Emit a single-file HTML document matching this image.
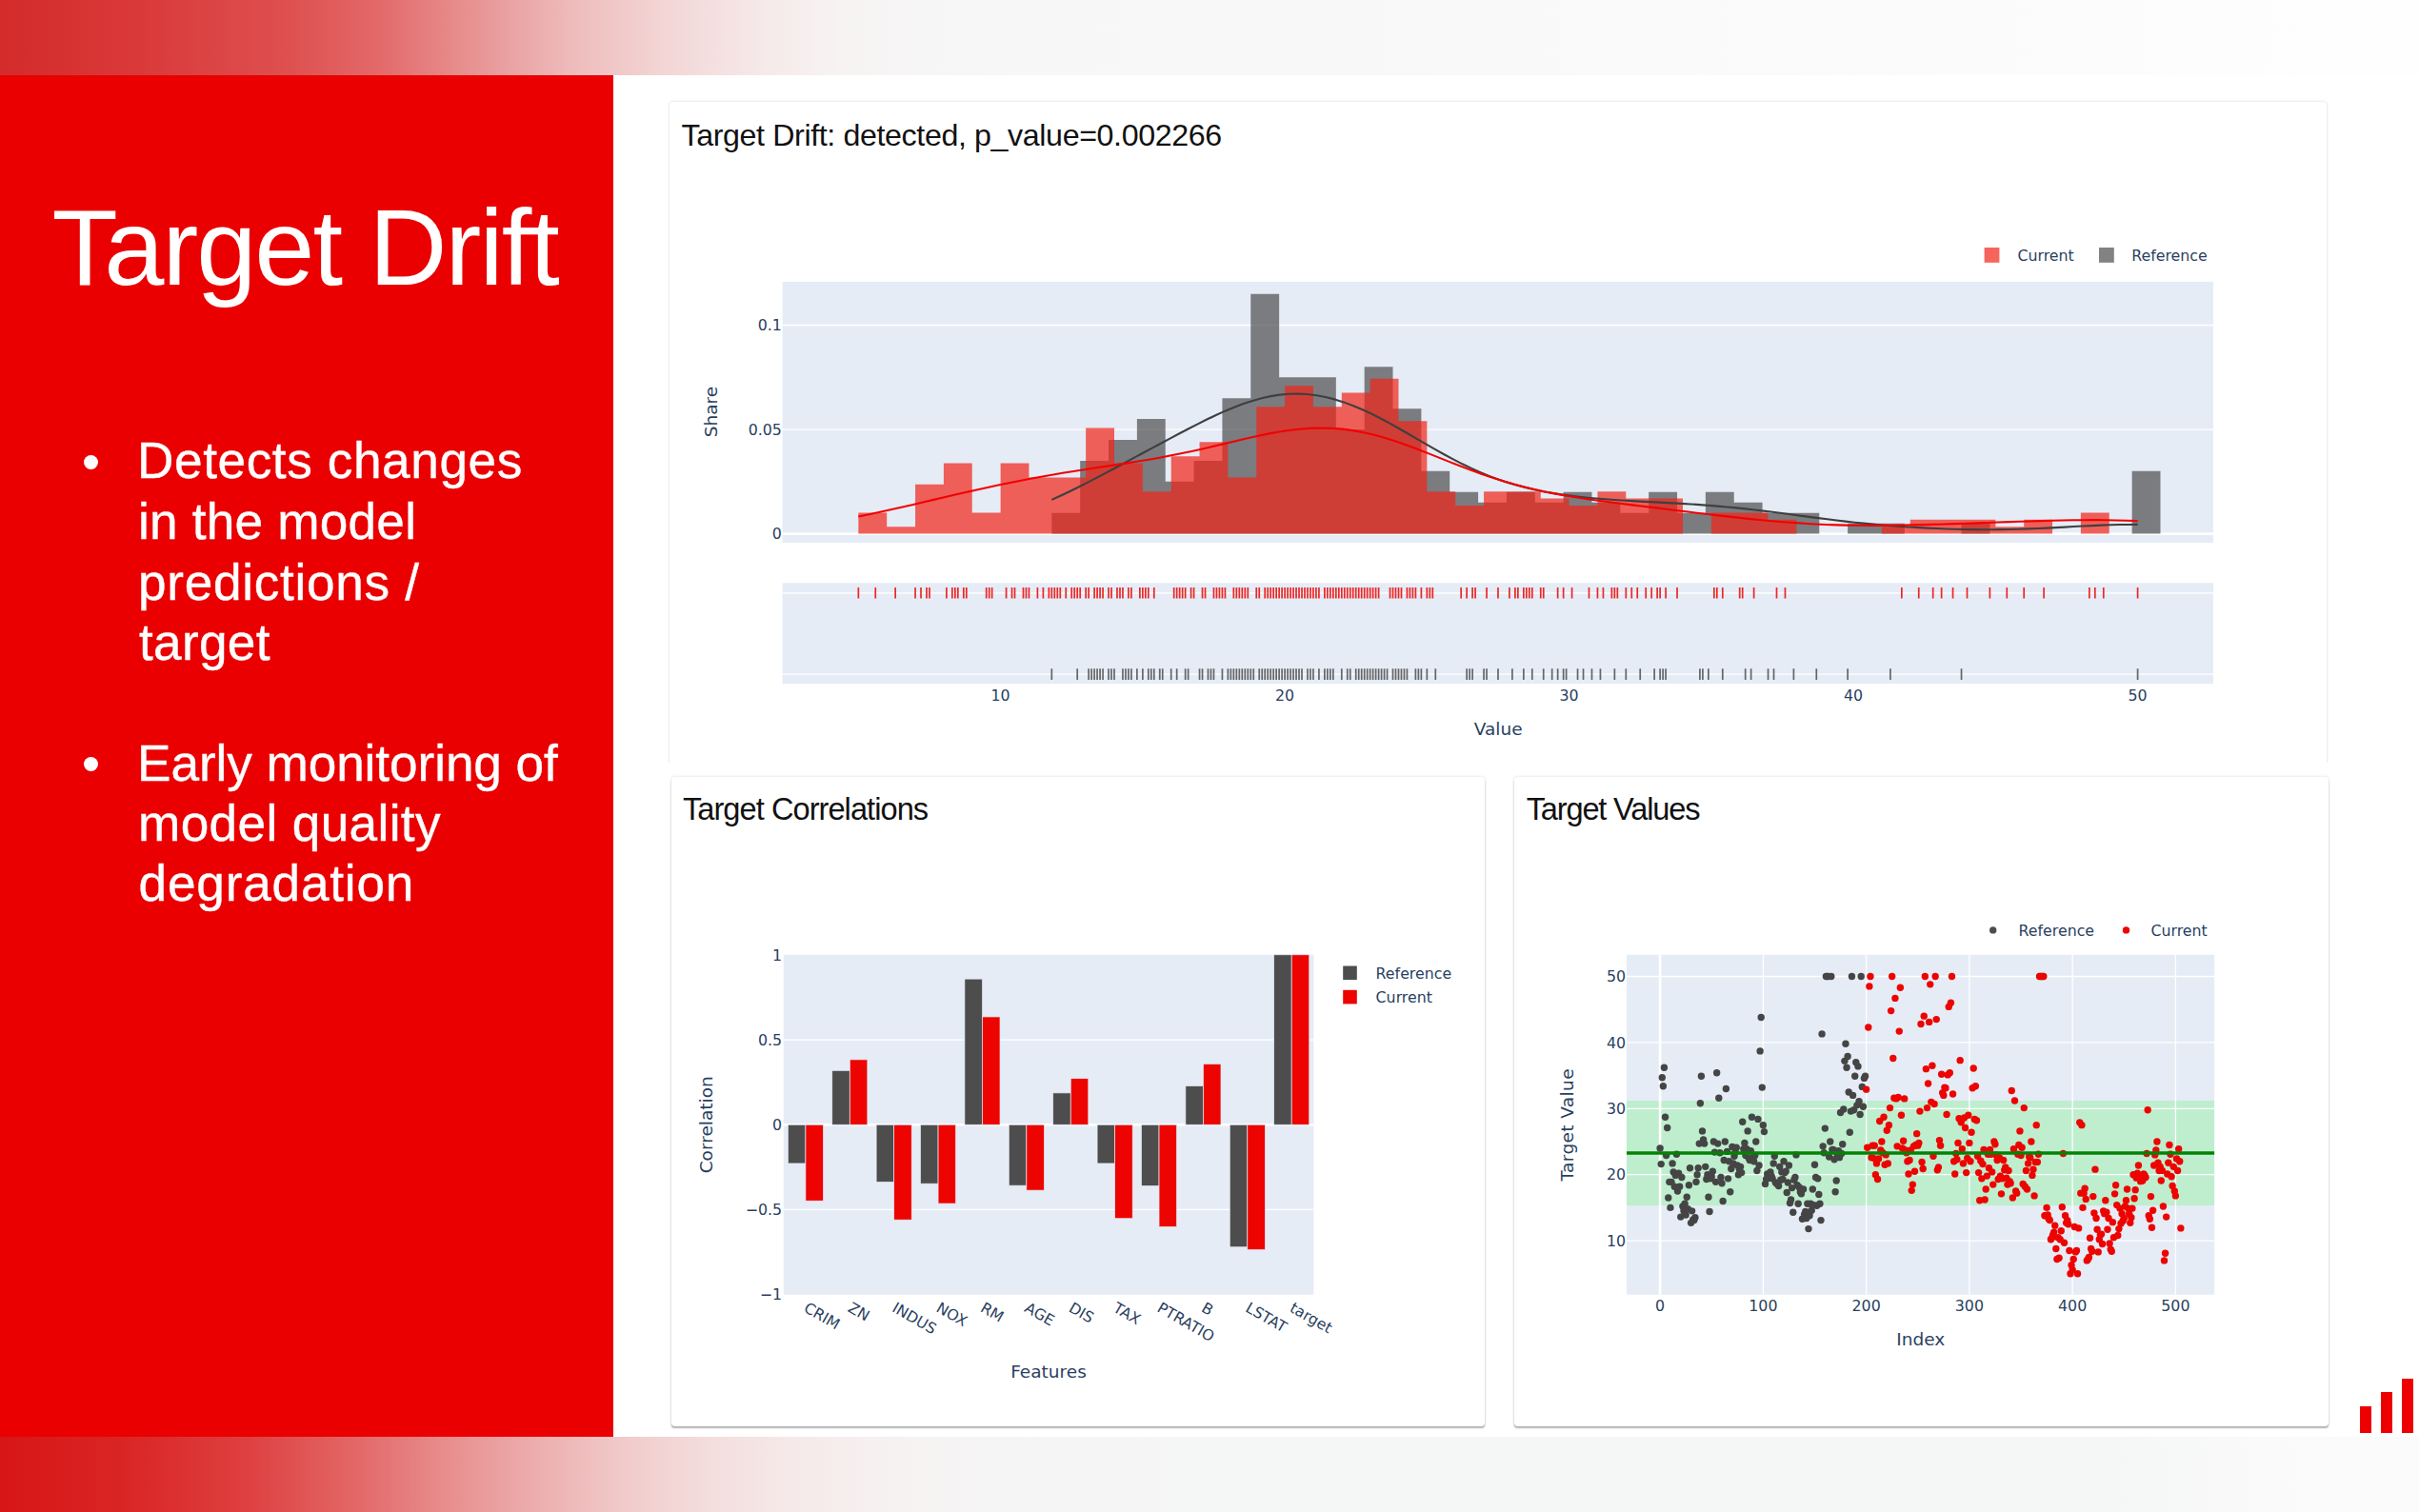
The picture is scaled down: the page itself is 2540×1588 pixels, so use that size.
<!DOCTYPE html>
<html lang="en"><head><meta charset="utf-8"><title>Target Drift</title>
<style>
html,body{margin:0;padding:0;}
body{width:2540px;height:1588px;position:relative;overflow:hidden;background:#fff;font-family:"Liberation Sans",Arial,Helvetica,sans-serif;}
.band{position:absolute;left:0;width:2540px;}
#bt{top:0;height:79px;background:linear-gradient(90deg,#d42b2b 0px,#da3a3a 150px,#de4f4f 300px,#e36a6a 400px,#e89494 500px,#eebbbb 600px,#f3d6d6 700px,#f6e9e9 800px,#f7f3f3 880px,#f7f7f7 1000px,#f8f8f8 1400px,#fafafa 1800px,#fcfcfc 2150px,#fefefe 2450px,#fefefe 2540px);}
#bb{top:1509px;height:79px;background:linear-gradient(90deg,#d71616 0px,#da2525 130px,#de4040 260px,#e36666 370px,#e88e8e 470px,#edb0b0 570px,#f1cccc 660px,#f4dede 750px,#f6eaea 840px,#f6f1f1 930px,#f6f5f5 1040px,#f5f6f6 1300px,#f5f6f6 2200px,#fafafa 2400px,#fbfbfb 2540px);}
#red{position:absolute;left:0;top:79px;width:644px;height:1430px;background:#ea0000;}
.wl{position:absolute;margin:0;font-weight:400;color:#fff;white-space:nowrap;}
.ws{-webkit-text-stroke:0.4px #fff;}
.dot{position:absolute;width:15px;height:15px;border-radius:50%;background:#fff;}
.card{position:absolute;background:#fff;border-radius:4px;box-shadow:0 2.2px 1.6px -0.8px rgba(0,0,0,.27),0 0 2.2px 0.2px rgba(0,0,0,.075);}
.ct{position:absolute;margin:0;font-weight:400;color:#111;white-space:nowrap;}
svg text{font-family:'DejaVu Sans', Verdana, sans-serif;fill:#2a3f5f;}
.logo{position:absolute;background:#ee0000;}
</style></head><body>
<div class="band" id="bt"></div>
<div class="band" id="bb"></div>
<div id="red"></div>
<h1 class="wl" id="title" style="left:54.50px;top:203.12px;font-size:113.5px;line-height:113.5px;height:113.5px;letter-spacing:-1.982px">Target Drift</h1>
<span class="dot" style="left:87.9px;top:477.6px"></span>
<div class="wl ws" id="l1" style="left:144.00px;top:457.47px;font-size:53.2px;line-height:53.2px;height:53.2px;letter-spacing:0.586px">Detects changes</div>
<div class="wl ws" id="l2" style="left:145.00px;top:521.17px;font-size:53.2px;line-height:53.2px;height:53.2px;letter-spacing:0.200px">in the model</div>
<div class="wl ws" id="l3" style="left:145.00px;top:584.77px;font-size:53.2px;line-height:53.2px;height:53.2px;letter-spacing:0.683px">predictions /</div>
<div class="wl ws" id="l4" style="left:146.00px;top:648.47px;font-size:53.2px;line-height:53.2px;height:53.2px;letter-spacing:0.280px">target</div>
<span class="dot" style="left:87.7px;top:795.3px"></span>
<div class="wl ws" id="l5" style="left:144.00px;top:774.67px;font-size:53.2px;line-height:53.2px;height:53.2px;letter-spacing:-0.089px">Early monitoring of</div>
<div class="wl ws" id="l6" style="left:145.00px;top:837.97px;font-size:53.2px;line-height:53.2px;height:53.2px;letter-spacing:0.350px">model quality</div>
<div class="wl ws" id="l7" style="left:145.50px;top:901.27px;font-size:53.2px;line-height:53.2px;height:53.2px;letter-spacing:0.800px">degradation</div>
<div class="card" id="c1" style="left:703px;top:107px;width:1740px;height:696px;border-radius:4px 4px 0 0;box-shadow:0 0 3px 0 rgba(0,0,0,.18);clip-path:inset(-6px -6px 2px -6px)"></div>
<div class="card" id="c2" style="left:705.3px;top:816px;width:854.2px;height:681.6px"></div>
<div class="card" id="c3" style="left:1589.5px;top:816px;width:855px;height:681.6px"></div>
<h2 class="ct" id="t1" style="left:715.50px;top:126.24px;font-size:32.2px;line-height:32.2px;height:32.2px;letter-spacing:-0.379px">Target Drift: detected, p_value=0.002266</h2>
<h2 class="ct" id="t2" style="left:716.90px;top:833.90px;font-size:32.6px;line-height:32.6px;height:32.6px;letter-spacing:-0.944px">Target Correlations</h2>
<h2 class="ct" id="t3" style="left:1602.70px;top:833.90px;font-size:32.6px;line-height:32.6px;height:32.6px;letter-spacing:-1.167px">Target Values</h2>
<svg width="2540" height="1588" viewBox="0 0 2540 1588" style="position:absolute;left:0;top:0">
<rect x="821.6" y="295.9" width="1502.4" height="274.1" fill="#E5ECF6"/>
<rect x="821.6" y="612.3" width="1502.4" height="105.9" fill="#E5ECF6"/>
<line x1="821.6" x2="2324" y1="451.05" y2="451.05" stroke="#fff" stroke-width="1.3"/>
<line x1="821.6" x2="2324" y1="341.5" y2="341.5" stroke="#fff" stroke-width="1.3"/>
<line x1="821.6" x2="2324" y1="560.6" y2="560.6" stroke="#fff" stroke-width="2.6"/>
<line x1="821.6" x2="2324" y1="622.8" y2="622.8" stroke="#fff" stroke-width="1.3"/>
<line x1="821.6" x2="2324" y1="708.1" y2="708.1" stroke="#fff" stroke-width="1.3"/>
<path d="M1104.33,560.6V538.69H1134.18V560.6ZM1134.18,560.6V483.92H1164.03V560.6ZM1164.03,560.6V462H1193.88V560.6ZM1193.88,560.6V440.1H1223.73V560.6ZM1223.73,560.6V505.83H1253.58V560.6ZM1253.58,560.6V483.92H1283.43V560.6ZM1283.43,560.6V418.19H1313.28V560.6ZM1313.28,560.6V308.63H1343.13V560.6ZM1343.13,560.6V396.28H1372.98V560.6ZM1372.98,560.6V396.28H1402.83V560.6ZM1402.83,560.6V451.05H1432.68V560.6ZM1432.68,560.6V385.32H1462.53V560.6ZM1462.53,560.6V429.14H1492.38V560.6ZM1492.38,560.6V494.87H1522.23V560.6ZM1522.23,560.6V516.78H1552.08V560.6ZM1552.08,560.6V527.74H1581.93V560.6ZM1581.93,560.6V516.78H1611.78V560.6ZM1611.78,560.6V527.74H1641.63V560.6ZM1641.63,560.6V516.78H1671.48V560.6ZM1671.48,560.6V527.74H1701.33V560.6ZM1701.33,560.6V538.69H1731.18V560.6ZM1731.18,560.6V516.78H1761.03V560.6ZM1761.03,560.6V538.69H1790.88V560.6ZM1790.88,560.6V516.78H1820.73V560.6ZM1820.73,560.6V527.74H1850.58V560.6ZM1850.58,560.6V538.69H1880.43V560.6ZM1880.43,560.6V538.69H1910.28V560.6ZM1940.13,560.6V549.64H1969.98V560.6ZM1969.98,560.6V549.64H1999.83V560.6ZM2059.53,560.6V549.64H2089.38V560.6ZM2238.63,560.6V494.87H2268.48V560.6Z" fill="#4d4d4d" fill-opacity="0.7"/>
<path d="M901.35,560.6V538.39H931.2V560.6ZM931.2,560.6V553.2H961.05V560.6ZM961.05,560.6V508.79H990.9V560.6ZM990.9,560.6V486.58H1020.75V560.6ZM1020.75,560.6V538.39H1050.6V560.6ZM1050.6,560.6V486.58H1080.45V560.6ZM1080.45,560.6V501.38H1110.3V560.6ZM1110.3,560.6V501.38H1140.15V560.6ZM1140.15,560.6V449.57H1170V560.6ZM1170,560.6V486.58H1199.85V560.6ZM1199.85,560.6V516.19H1229.7V560.6ZM1229.7,560.6V479.18H1259.55V560.6ZM1259.55,560.6V464.37H1289.4V560.6ZM1289.4,560.6V501.38H1319.25V560.6ZM1319.25,560.6V427.36H1349.1V560.6ZM1349.1,560.6V405.16H1378.95V560.6ZM1378.95,560.6V427.36H1408.8V560.6ZM1408.8,560.6V412.56H1438.65V560.6ZM1438.65,560.6V397.76H1468.5V560.6ZM1468.5,560.6V442.17H1498.35V560.6ZM1498.35,560.6V516.19H1528.2V560.6ZM1528.2,560.6V530.99H1558.05V560.6ZM1558.05,560.6V516.19H1587.9V560.6ZM1587.9,560.6V516.19H1617.75V560.6ZM1617.75,560.6V523.59H1647.6V560.6ZM1647.6,560.6V530.99H1677.45V560.6ZM1677.45,560.6V516.19H1707.3V560.6ZM1707.3,560.6V523.59H1737.15V560.6ZM1737.15,560.6V523.59H1767V560.6ZM1796.85,560.6V538.39H1826.7V560.6ZM1826.7,560.6V538.39H1856.55V560.6ZM1856.55,560.6V545.8H1886.4V560.6ZM1975.95,560.6V553.2H2005.8V560.6ZM2005.8,560.6V545.8H2035.65V560.6ZM2035.65,560.6V545.8H2065.5V560.6ZM2065.5,560.6V545.8H2095.35V560.6ZM2095.35,560.6V553.2H2125.2V560.6ZM2125.2,560.6V545.8H2155.05V560.6ZM2184.9,560.6V538.39H2214.75V560.6Z" fill="#f22317" fill-opacity="0.7"/>
<polyline points="1104.33,524.92 1113.91,520.52 1123.49,515.93 1133.08,511.19 1142.66,506.32 1152.24,501.35 1161.82,496.31 1171.4,491.22 1180.99,486.1 1190.57,480.95 1200.15,475.79 1209.73,470.63 1219.32,465.48 1228.9,460.35 1238.48,455.26 1248.06,450.23 1257.64,445.32 1267.23,440.54 1276.81,435.97 1286.39,431.66 1295.97,427.66 1305.55,424.05 1315.14,420.89 1324.72,418.23 1334.3,416.13 1343.88,414.64 1353.46,413.78 1363.05,413.59 1372.63,414.05 1382.21,415.19 1391.79,416.97 1401.38,419.38 1410.96,422.38 1420.54,425.92 1430.12,429.95 1439.7,434.42 1449.29,439.26 1458.87,444.39 1468.45,449.75 1478.03,455.26 1487.61,460.83 1497.2,466.41 1506.78,471.91 1516.36,477.26 1525.94,482.42 1535.52,487.32 1545.11,491.92 1554.69,496.19 1564.27,500.12 1573.85,503.68 1583.44,506.89 1593.02,509.76 1602.6,512.29 1612.18,514.51 1621.76,516.46 1631.35,518.15 1640.93,519.62 1650.51,520.89 1660.09,521.99 1669.67,522.95 1679.26,523.79 1688.84,524.53 1698.42,525.19 1708,525.78 1717.58,526.33 1727.17,526.84 1736.75,527.34 1746.33,527.84 1755.91,528.35 1765.49,528.9 1775.08,529.48 1784.66,530.12 1794.24,530.83 1803.82,531.61 1813.41,532.46 1822.99,533.4 1832.57,534.41 1842.15,535.49 1851.73,536.63 1861.32,537.83 1870.9,539.06 1880.48,540.32 1890.06,541.59 1899.64,542.86 1909.23,544.1 1918.81,545.32 1928.39,546.49 1937.97,547.61 1947.55,548.67 1957.14,549.66 1966.72,550.58 1976.3,551.44 1985.88,552.22 1995.47,552.92 2005.05,553.56 2014.63,554.13 2024.21,554.63 2033.79,555.06 2043.38,555.43 2052.96,555.73 2062.54,555.95 2072.12,556.11 2081.7,556.19 2091.29,556.19 2100.87,556.11 2110.45,555.95 2120.03,555.72 2129.61,555.4 2139.2,555.02 2148.78,554.58 2158.36,554.1 2167.94,553.59 2177.53,553.07 2187.11,552.56 2196.69,552.08 2206.27,551.66 2215.85,551.32 2225.44,551.07 2235.02,550.93 2244.6,550.91" fill="none" stroke="#3f3f3f" stroke-width="2.1" stroke-linejoin="round"/>
<polyline points="901.35,542.43 912.64,540.16 923.93,537.78 935.21,535.31 946.5,532.76 957.79,530.17 969.08,527.53 980.36,524.88 991.65,522.24 1002.94,519.6 1014.23,517 1025.52,514.45 1036.8,511.96 1048.09,509.53 1059.38,507.19 1070.67,504.92 1081.96,502.75 1093.24,500.68 1104.53,498.69 1115.82,496.79 1127.11,494.97 1138.39,493.21 1149.68,491.49 1160.97,489.8 1172.26,488.1 1183.55,486.37 1194.83,484.58 1206.12,482.7 1217.41,480.71 1228.7,478.59 1239.98,476.33 1251.27,473.94 1262.56,471.42 1273.85,468.8 1285.14,466.11 1296.42,463.41 1307.71,460.75 1319,458.2 1330.29,455.85 1341.57,453.76 1352.86,452.01 1364.15,450.68 1375.44,449.83 1386.73,449.52 1398.01,449.79 1409.3,450.66 1420.59,452.14 1431.88,454.21 1443.17,456.84 1454.45,459.97 1465.74,463.55 1477.03,467.5 1488.32,471.72 1499.6,476.13 1510.89,480.63 1522.18,485.13 1533.47,489.56 1544.76,493.84 1556.04,497.92 1567.33,501.76 1578.62,505.31 1589.91,508.58 1601.19,511.56 1612.48,514.26 1623.77,516.7 1635.06,518.9 1646.35,520.9 1657.63,522.73 1668.92,524.42 1680.21,526 1691.5,527.51 1702.78,528.96 1714.07,530.37 1725.36,531.77 1736.65,533.16 1747.94,534.54 1759.22,535.92 1770.51,537.3 1781.8,538.67 1793.09,540.02 1804.38,541.35 1815.66,542.65 1826.95,543.9 1838.24,545.09 1849.53,546.21 1860.81,547.25 1872.1,548.21 1883.39,549.06 1894.68,549.8 1905.97,550.43 1917.25,550.95 1928.54,551.35 1939.83,551.63 1951.12,551.81 1962.4,551.88 1973.69,551.87 1984.98,551.77 1996.27,551.6 2007.56,551.37 2018.84,551.1 2030.13,550.79 2041.42,550.45 2052.71,550.09 2063.99,549.72 2075.28,549.34 2086.57,548.95 2097.86,548.56 2109.15,548.17 2120.43,547.79 2131.72,547.43 2143.01,547.08 2154.3,546.78 2165.59,546.52 2176.87,546.32 2188.16,546.2 2199.45,546.17 2210.74,546.25 2222.02,546.44 2233.31,546.74 2244.6,547.17" fill="none" stroke="#f20000" stroke-width="2.1" stroke-linejoin="round"/>
<path d="M901.35,617v11.6M919.26,617v11.6M940.15,617v11.6M961.05,617v11.6M967.02,617v11.6M972.99,617v11.6M975.97,617v11.6M993.88,617v11.6M999.85,617v11.6M1002.84,617v11.6M1005.82,617v11.6M1011.79,617v11.6M1014.78,617v11.6M1035.67,617v11.6M1038.66,617v11.6M1041.64,617v11.6M1056.57,617v11.6M1062.54,617v11.6M1065.52,617v11.6M1074.48,617v11.6M1077.46,617v11.6M1080.45,617v11.6M1089.4,617v11.6M1095.38,617v11.6M1101.34,617v11.6M1104.33,617v11.6M1107.31,617v11.6M1110.3,617v11.6M1113.28,617v11.6M1119.25,617v11.6M1125.22,617v11.6M1128.21,617v11.6M1131.19,617v11.6M1134.18,617v11.6M1140.15,617v11.6M1143.13,617v11.6M1149.11,617v11.6M1152.09,617v11.6M1155.07,617v11.6M1158.06,617v11.6M1164.03,617v11.6M1167.01,617v11.6M1172.98,617v11.6M1175.97,617v11.6M1178.95,617v11.6M1184.92,617v11.6M1187.91,617v11.6M1196.87,617v11.6M1199.85,617v11.6M1202.83,617v11.6M1205.82,617v11.6M1211.79,617v11.6M1232.68,617v11.6M1235.67,617v11.6M1238.65,617v11.6M1241.64,617v11.6M1244.62,617v11.6M1250.59,617v11.6M1253.58,617v11.6M1262.53,617v11.6M1265.52,617v11.6M1274.47,617v11.6M1277.46,617v11.6M1280.44,617v11.6M1283.43,617v11.6M1286.41,617v11.6M1295.37,617v11.6M1298.36,617v11.6M1301.34,617v11.6M1304.32,617v11.6M1307.31,617v11.6M1310.29,617v11.6M1319.25,617v11.6M1322.23,617v11.6M1328.2,617v11.6M1331.19,617v11.6M1334.17,617v11.6M1337.16,617v11.6M1340.14,617v11.6M1343.13,617v11.6M1346.11,617v11.6M1349.1,617v11.6M1352.09,617v11.6M1355.07,617v11.6M1358.05,617v11.6M1361.04,617v11.6M1364.02,617v11.6M1367.01,617v11.6M1369.99,617v11.6M1372.98,617v11.6M1375.96,617v11.6M1378.95,617v11.6M1381.93,617v11.6M1384.92,617v11.6M1390.89,617v11.6M1393.88,617v11.6M1396.86,617v11.6M1399.84,617v11.6M1402.83,617v11.6M1405.81,617v11.6M1408.8,617v11.6M1411.78,617v11.6M1414.77,617v11.6M1417.75,617v11.6M1420.74,617v11.6M1423.72,617v11.6M1426.71,617v11.6M1429.69,617v11.6M1432.68,617v11.6M1435.66,617v11.6M1438.65,617v11.6M1441.63,617v11.6M1444.62,617v11.6M1447.61,617v11.6M1459.54,617v11.6M1462.53,617v11.6M1465.51,617v11.6M1468.5,617v11.6M1471.48,617v11.6M1477.45,617v11.6M1480.44,617v11.6M1483.42,617v11.6M1486.41,617v11.6M1492.38,617v11.6M1498.35,617v11.6M1501.34,617v11.6M1504.32,617v11.6M1534.17,617v11.6M1540.14,617v11.6M1546.11,617v11.6M1549.09,617v11.6M1561.03,617v11.6M1572.97,617v11.6M1584.91,617v11.6M1590.88,617v11.6M1593.87,617v11.6M1599.84,617v11.6M1602.82,617v11.6M1605.81,617v11.6M1608.8,617v11.6M1617.75,617v11.6M1620.74,617v11.6M1635.66,617v11.6M1641.63,617v11.6M1650.59,617v11.6M1668.49,617v11.6M1677.45,617v11.6M1683.42,617v11.6M1692.38,617v11.6M1695.36,617v11.6M1698.34,617v11.6M1707.3,617v11.6M1713.27,617v11.6M1719.24,617v11.6M1728.2,617v11.6M1734.16,617v11.6M1740.13,617v11.6M1743.12,617v11.6M1749.09,617v11.6M1761.03,617v11.6M1799.84,617v11.6M1802.82,617v11.6M1808.79,617v11.6M1826.7,617v11.6M1829.68,617v11.6M1841.62,617v11.6M1865.5,617v11.6M1874.46,617v11.6M1996.85,617v11.6M2014.75,617v11.6M2029.68,617v11.6M2038.63,617v11.6M2050.57,617v11.6M2065.5,617v11.6M2089.38,617v11.6M2107.29,617v11.6M2125.2,617v11.6M2146.1,617v11.6M2193.85,617v11.6M2199.82,617v11.6M2208.78,617v11.6M2244.6,617v11.6" stroke="#ed0400" stroke-width="1.7" stroke-opacity="0.85" fill="none"/>
<path d="M1104.33,702.3v11.6M1131.19,702.3v11.6M1143.13,702.3v11.6M1146.12,702.3v11.6M1149.11,702.3v11.6M1152.09,702.3v11.6M1155.07,702.3v11.6M1158.06,702.3v11.6M1164.03,702.3v11.6M1167.01,702.3v11.6M1170,702.3v11.6M1178.95,702.3v11.6M1181.94,702.3v11.6M1184.92,702.3v11.6M1187.91,702.3v11.6M1193.88,702.3v11.6M1199.85,702.3v11.6M1205.82,702.3v11.6M1208.8,702.3v11.6M1211.79,702.3v11.6M1217.76,702.3v11.6M1220.74,702.3v11.6M1229.7,702.3v11.6M1235.67,702.3v11.6M1244.62,702.3v11.6M1247.61,702.3v11.6M1259.55,702.3v11.6M1262.53,702.3v11.6M1268.5,702.3v11.6M1271.49,702.3v11.6M1274.47,702.3v11.6M1283.43,702.3v11.6M1289.4,702.3v11.6M1292.38,702.3v11.6M1295.37,702.3v11.6M1298.36,702.3v11.6M1301.34,702.3v11.6M1304.32,702.3v11.6M1307.31,702.3v11.6M1310.29,702.3v11.6M1313.28,702.3v11.6M1316.26,702.3v11.6M1322.23,702.3v11.6M1325.22,702.3v11.6M1328.2,702.3v11.6M1331.19,702.3v11.6M1334.17,702.3v11.6M1337.16,702.3v11.6M1340.14,702.3v11.6M1343.13,702.3v11.6M1346.11,702.3v11.6M1349.1,702.3v11.6M1352.09,702.3v11.6M1355.07,702.3v11.6M1358.05,702.3v11.6M1361.04,702.3v11.6M1364.02,702.3v11.6M1367.01,702.3v11.6M1372.98,702.3v11.6M1375.96,702.3v11.6M1378.95,702.3v11.6M1384.92,702.3v11.6M1390.89,702.3v11.6M1393.88,702.3v11.6M1396.86,702.3v11.6M1399.84,702.3v11.6M1408.8,702.3v11.6M1414.77,702.3v11.6M1417.75,702.3v11.6M1423.72,702.3v11.6M1426.71,702.3v11.6M1429.69,702.3v11.6M1432.68,702.3v11.6M1435.66,702.3v11.6M1438.65,702.3v11.6M1441.63,702.3v11.6M1444.62,702.3v11.6M1447.61,702.3v11.6M1450.59,702.3v11.6M1453.57,702.3v11.6M1456.56,702.3v11.6M1462.53,702.3v11.6M1465.51,702.3v11.6M1468.5,702.3v11.6M1471.48,702.3v11.6M1474.47,702.3v11.6M1477.45,702.3v11.6M1486.41,702.3v11.6M1489.39,702.3v11.6M1492.38,702.3v11.6M1498.35,702.3v11.6M1507.3,702.3v11.6M1540.14,702.3v11.6M1543.12,702.3v11.6M1546.11,702.3v11.6M1558.05,702.3v11.6M1561.03,702.3v11.6M1572.97,702.3v11.6M1587.9,702.3v11.6M1599.84,702.3v11.6M1608.8,702.3v11.6M1620.74,702.3v11.6M1629.69,702.3v11.6M1635.66,702.3v11.6M1641.63,702.3v11.6M1644.61,702.3v11.6M1656.55,702.3v11.6M1662.53,702.3v11.6M1671.48,702.3v11.6M1680.43,702.3v11.6M1695.36,702.3v11.6M1707.3,702.3v11.6M1722.22,702.3v11.6M1737.15,702.3v11.6M1743.12,702.3v11.6M1746.11,702.3v11.6M1749.09,702.3v11.6M1784.91,702.3v11.6M1787.89,702.3v11.6M1793.86,702.3v11.6M1808.79,702.3v11.6M1832.67,702.3v11.6M1838.64,702.3v11.6M1856.55,702.3v11.6M1862.52,702.3v11.6M1883.41,702.3v11.6M1907.3,702.3v11.6M1940.13,702.3v11.6M1984.9,702.3v11.6M2059.53,702.3v11.6M2244.6,702.3v11.6" stroke="#4d4d4d" stroke-width="1.7" stroke-opacity="0.85" fill="none"/>
<text x="820.9" y="566.3" font-size="15.8" text-anchor="end" >0</text>
<text x="820.9" y="456.75" font-size="15.8" text-anchor="end" >0.05</text>
<text x="820.9" y="347.2" font-size="15.8" text-anchor="end" >0.1</text>
<text x="1050.6" y="735.8" font-size="15.8" text-anchor="middle" >10</text>
<text x="1349.1" y="735.8" font-size="15.8" text-anchor="middle" >20</text>
<text x="1647.6" y="735.8" font-size="15.8" text-anchor="middle" >30</text>
<text x="1946.1" y="735.8" font-size="15.8" text-anchor="middle" >40</text>
<text x="2244.6" y="735.8" font-size="15.8" text-anchor="middle" >50</text>
<text x="1573.2" y="771.7" font-size="18.5" text-anchor="middle" >Value</text>
<text transform="translate(752.5,432.6) rotate(-90)" font-size="18.5" text-anchor="middle">Share</text>
<rect x="2083.6" y="260" width="15.8" height="15.8" fill="#f22317" fill-opacity="0.7"/>
<text x="2118.4" y="273.9" font-size="15.8" text-anchor="start" >Current</text>
<rect x="2204" y="260" width="15.8" height="15.8" fill="#4d4d4d" fill-opacity="0.7"/>
<text x="2238.2" y="273.9" font-size="15.8" text-anchor="start" >Reference</text>
<rect x="822.7" y="1002.8" width="556.7" height="356.9" fill="#E5ECF6"/>
<line x1="822.7" x2="1379.4" y1="1270.47" y2="1270.47" stroke="#fff" stroke-width="1.3"/>
<line x1="822.7" x2="1379.4" y1="1092.03" y2="1092.03" stroke="#fff" stroke-width="1.3"/>
<line x1="822.7" x2="1379.4" y1="1181.25" y2="1181.25" stroke="#fff" stroke-width="2.6"/>
<rect x="827.34" y="1181.25" width="18.56" height="40.69" fill="#4d4d4d" stroke="#E5ECF6" stroke-width="0.7"/>
<rect x="845.9" y="1181.25" width="18.56" height="79.95" fill="#ed0400" stroke="#E5ECF6" stroke-width="0.7"/>
<text transform="translate(842.9,1376.7) rotate(30)" font-size="15.8" text-anchor="start">CRIM</text>
<rect x="873.73" y="1124.32" width="18.56" height="56.93" fill="#4d4d4d" stroke="#E5ECF6" stroke-width="0.7"/>
<rect x="892.29" y="1112.9" width="18.56" height="68.35" fill="#ed0400" stroke="#E5ECF6" stroke-width="0.7"/>
<text transform="translate(889.29,1376.7) rotate(30)" font-size="15.8" text-anchor="start">ZN</text>
<rect x="920.12" y="1181.25" width="18.56" height="60.14" fill="#4d4d4d" stroke="#E5ECF6" stroke-width="0.7"/>
<rect x="938.68" y="1181.25" width="18.56" height="99.93" fill="#ed0400" stroke="#E5ECF6" stroke-width="0.7"/>
<text transform="translate(935.68,1376.7) rotate(30)" font-size="15.8" text-anchor="start">INDUS</text>
<rect x="966.51" y="1181.25" width="18.56" height="61.92" fill="#4d4d4d" stroke="#E5ECF6" stroke-width="0.7"/>
<rect x="985.07" y="1181.25" width="18.56" height="82.8" fill="#ed0400" stroke="#E5ECF6" stroke-width="0.7"/>
<text transform="translate(982.07,1376.7) rotate(30)" font-size="15.8" text-anchor="start">NOX</text>
<rect x="1012.91" y="1028.14" width="18.56" height="153.11" fill="#4d4d4d" stroke="#E5ECF6" stroke-width="0.7"/>
<rect x="1031.46" y="1067.93" width="18.56" height="113.32" fill="#ed0400" stroke="#E5ECF6" stroke-width="0.7"/>
<text transform="translate(1028.46,1376.7) rotate(30)" font-size="15.8" text-anchor="start">RM</text>
<rect x="1059.3" y="1181.25" width="18.56" height="63.89" fill="#4d4d4d" stroke="#E5ECF6" stroke-width="0.7"/>
<rect x="1077.85" y="1181.25" width="18.56" height="68.88" fill="#ed0400" stroke="#E5ECF6" stroke-width="0.7"/>
<text transform="translate(1074.85,1376.7) rotate(30)" font-size="15.8" text-anchor="start">AGE</text>
<rect x="1105.69" y="1147.88" width="18.56" height="33.37" fill="#4d4d4d" stroke="#E5ECF6" stroke-width="0.7"/>
<rect x="1124.25" y="1132.71" width="18.56" height="48.54" fill="#ed0400" stroke="#E5ECF6" stroke-width="0.7"/>
<text transform="translate(1121.25,1376.7) rotate(30)" font-size="15.8" text-anchor="start">DIS</text>
<rect x="1152.08" y="1181.25" width="18.56" height="40.69" fill="#4d4d4d" stroke="#E5ECF6" stroke-width="0.7"/>
<rect x="1170.64" y="1181.25" width="18.56" height="98.5" fill="#ed0400" stroke="#E5ECF6" stroke-width="0.7"/>
<text transform="translate(1167.64,1376.7) rotate(30)" font-size="15.8" text-anchor="start">TAX</text>
<rect x="1198.47" y="1181.25" width="18.56" height="64.24" fill="#4d4d4d" stroke="#E5ECF6" stroke-width="0.7"/>
<rect x="1217.03" y="1181.25" width="18.56" height="107.25" fill="#ed0400" stroke="#E5ECF6" stroke-width="0.7"/>
<text transform="translate(1214.03,1376.7) rotate(30)" font-size="15.8" text-anchor="start">PTRATIO</text>
<rect x="1244.86" y="1140.56" width="18.56" height="40.69" fill="#4d4d4d" stroke="#E5ECF6" stroke-width="0.7"/>
<rect x="1263.42" y="1117.36" width="18.56" height="63.89" fill="#ed0400" stroke="#E5ECF6" stroke-width="0.7"/>
<text transform="translate(1260.42,1376.7) rotate(30)" font-size="15.8" text-anchor="start">B</text>
<rect x="1291.26" y="1181.25" width="18.56" height="128.48" fill="#4d4d4d" stroke="#E5ECF6" stroke-width="0.7"/>
<rect x="1309.81" y="1181.25" width="18.56" height="131.34" fill="#ed0400" stroke="#E5ECF6" stroke-width="0.7"/>
<text transform="translate(1306.81,1376.7) rotate(30)" font-size="15.8" text-anchor="start">LSTAT</text>
<rect x="1337.65" y="1002.8" width="18.56" height="178.45" fill="#4d4d4d" stroke="#E5ECF6" stroke-width="0.7"/>
<rect x="1356.2" y="1002.8" width="18.56" height="178.45" fill="#ed0400" stroke="#E5ECF6" stroke-width="0.7"/>
<text transform="translate(1353.2,1376.7) rotate(30)" font-size="15.8" text-anchor="start">target</text>
<text x="821" y="1008.5" font-size="15.8" text-anchor="end" >1</text>
<text x="821" y="1097.73" font-size="15.8" text-anchor="end" >0.5</text>
<text x="821" y="1186.95" font-size="15.8" text-anchor="end" >0</text>
<text x="821" y="1276.17" font-size="15.8" text-anchor="end" >−0.5</text>
<text x="821" y="1365.4" font-size="15.8" text-anchor="end" >−1</text>
<text transform="translate(748.3,1181.3) rotate(-90)" font-size="18.5" text-anchor="middle">Correlation</text>
<text x="1101" y="1446.9" font-size="18.5" text-anchor="middle" >Features</text>
<rect x="1410.2" y="1014.5" width="14.6" height="14.6" fill="#4d4d4d"/>
<text x="1444.6" y="1027.9" font-size="15.8" text-anchor="start" >Reference</text>
<rect x="1410.2" y="1039.8" width="14.6" height="14.6" fill="#ed0400"/>
<text x="1444.6" y="1052.9" font-size="15.8" text-anchor="start" >Current</text>
<rect x="1708" y="1002.8" width="617.1" height="356.9" fill="#E5ECF6"/>
<rect x="1708" y="1156.13" width="617.1" height="109.89" fill="#97f0a6" fill-opacity="0.5"/>
<line y1="1002.8" y2="1359.7" x1="1851.36" x2="1851.36" stroke="#fff" stroke-width="1.3"/>
<line y1="1002.8" y2="1359.7" x1="1959.62" x2="1959.62" stroke="#fff" stroke-width="1.3"/>
<line y1="1002.8" y2="1359.7" x1="2067.88" x2="2067.88" stroke="#fff" stroke-width="1.3"/>
<line y1="1002.8" y2="1359.7" x1="2176.14" x2="2176.14" stroke="#fff" stroke-width="1.3"/>
<line y1="1002.8" y2="1359.7" x1="2284.4" x2="2284.4" stroke="#fff" stroke-width="1.3"/>
<line y1="1002.8" y2="1359.7" x1="1743.1" x2="1743.1" stroke="#fff" stroke-width="2.6"/>
<line x1="1708" x2="2325.1" y1="1303.1" y2="1303.1" stroke="#fff" stroke-width="1.3"/>
<line x1="1708" x2="2325.1" y1="1233.7" y2="1233.7" stroke="#fff" stroke-width="1.3"/>
<line x1="1708" x2="2325.1" y1="1164.3" y2="1164.3" stroke="#fff" stroke-width="1.3"/>
<line x1="1708" x2="2325.1" y1="1094.9" y2="1094.9" stroke="#fff" stroke-width="1.3"/>
<line x1="1708" x2="2325.1" y1="1025.5" y2="1025.5" stroke="#fff" stroke-width="1.3"/>
<g fill="#454545"><circle cx="1743.1" cy="1205.94" r="3.7"/><circle cx="1744.18" cy="1222.6" r="3.7"/><circle cx="1745.27" cy="1131.68" r="3.7"/><circle cx="1746.35" cy="1140.7" r="3.7"/><circle cx="1747.43" cy="1121.27" r="3.7"/><circle cx="1748.51" cy="1173.32" r="3.7"/><circle cx="1749.6" cy="1213.57" r="3.7"/><circle cx="1750.68" cy="1184.43" r="3.7"/><circle cx="1751.76" cy="1257.99" r="3.7"/><circle cx="1752.84" cy="1241.33" r="3.7"/><circle cx="1753.93" cy="1268.4" r="3.7"/><circle cx="1755.01" cy="1241.33" r="3.7"/><circle cx="1756.09" cy="1221.9" r="3.7"/><circle cx="1757.17" cy="1230.92" r="3.7"/><circle cx="1758.26" cy="1246.19" r="3.7"/><circle cx="1759.34" cy="1234.39" r="3.7"/><circle cx="1760.42" cy="1212.19" r="3.7"/><circle cx="1761.5" cy="1251.05" r="3.7"/><circle cx="1762.59" cy="1232.31" r="3.7"/><circle cx="1763.67" cy="1246.19" r="3.7"/><circle cx="1764.75" cy="1278.12" r="3.7"/><circle cx="1765.83" cy="1236.48" r="3.7"/><circle cx="1766.92" cy="1267.01" r="3.7"/><circle cx="1768" cy="1271.87" r="3.7"/><circle cx="1769.08" cy="1264.24" r="3.7"/><circle cx="1770.16" cy="1276.03" r="3.7"/><circle cx="1771.25" cy="1257.3" r="3.7"/><circle cx="1772.33" cy="1269.79" r="3.7"/><circle cx="1773.41" cy="1244.8" r="3.7"/><circle cx="1774.5" cy="1226.76" r="3.7"/><circle cx="1775.58" cy="1284.36" r="3.7"/><circle cx="1776.66" cy="1271.87" r="3.7"/><circle cx="1777.74" cy="1280.89" r="3.7"/><circle cx="1778.83" cy="1281.59" r="3.7"/><circle cx="1779.91" cy="1278.81" r="3.7"/><circle cx="1780.99" cy="1241.33" r="3.7"/><circle cx="1782.07" cy="1233.7" r="3.7"/><circle cx="1783.16" cy="1226.76" r="3.7"/><circle cx="1784.24" cy="1201.08" r="3.7"/><circle cx="1785.32" cy="1158.75" r="3.7"/><circle cx="1786.4" cy="1130.29" r="3.7"/><circle cx="1787.49" cy="1187.9" r="3.7"/><circle cx="1788.57" cy="1196.92" r="3.7"/><circle cx="1789.65" cy="1201.08" r="3.7"/><circle cx="1790.73" cy="1225.37" r="3.7"/><circle cx="1791.82" cy="1238.56" r="3.7"/><circle cx="1792.9" cy="1233.7" r="3.7"/><circle cx="1793.98" cy="1257.3" r="3.7"/><circle cx="1795.06" cy="1272.56" r="3.7"/><circle cx="1796.15" cy="1237.86" r="3.7"/><circle cx="1797.23" cy="1235.78" r="3.7"/><circle cx="1798.31" cy="1230.23" r="3.7"/><circle cx="1799.4" cy="1199" r="3.7"/><circle cx="1800.48" cy="1210.1" r="3.7"/><circle cx="1801.56" cy="1241.33" r="3.7"/><circle cx="1802.64" cy="1126.82" r="3.7"/><circle cx="1803.73" cy="1201.08" r="3.7"/><circle cx="1804.81" cy="1153.2" r="3.7"/><circle cx="1805.89" cy="1210.8" r="3.7"/><circle cx="1806.97" cy="1236.48" r="3.7"/><circle cx="1808.06" cy="1242.72" r="3.7"/><circle cx="1809.14" cy="1261.46" r="3.7"/><circle cx="1810.22" cy="1218.43" r="3.7"/><circle cx="1811.3" cy="1199" r="3.7"/><circle cx="1812.39" cy="1143.48" r="3.7"/><circle cx="1813.47" cy="1209.41" r="3.7"/><circle cx="1814.55" cy="1237.86" r="3.7"/><circle cx="1815.63" cy="1219.82" r="3.7"/><circle cx="1816.72" cy="1251.74" r="3.7"/><circle cx="1817.8" cy="1227.45" r="3.7"/><circle cx="1818.88" cy="1204.55" r="3.7"/><circle cx="1819.96" cy="1221.9" r="3.7"/><circle cx="1821.05" cy="1214.27" r="3.7"/><circle cx="1822.13" cy="1210.1" r="3.7"/><circle cx="1823.21" cy="1205.25" r="3.7"/><circle cx="1824.29" cy="1223.98" r="3.7"/><circle cx="1825.38" cy="1233.7" r="3.7"/><circle cx="1826.46" cy="1228.15" r="3.7"/><circle cx="1827.54" cy="1225.37" r="3.7"/><circle cx="1828.63" cy="1231.62" r="3.7"/><circle cx="1829.71" cy="1178.18" r="3.7"/><circle cx="1830.79" cy="1206.63" r="3.7"/><circle cx="1831.87" cy="1200.39" r="3.7"/><circle cx="1832.96" cy="1213.57" r="3.7"/><circle cx="1834.04" cy="1206.63" r="3.7"/><circle cx="1835.12" cy="1187.9" r="3.7"/><circle cx="1836.2" cy="1216.35" r="3.7"/><circle cx="1837.29" cy="1218.43" r="3.7"/><circle cx="1838.37" cy="1208.72" r="3.7"/><circle cx="1839.45" cy="1173.32" r="3.7"/><circle cx="1840.53" cy="1215.66" r="3.7"/><circle cx="1841.62" cy="1219.82" r="3.7"/><circle cx="1842.7" cy="1213.57" r="3.7"/><circle cx="1843.78" cy="1199" r="3.7"/><circle cx="1844.86" cy="1229.54" r="3.7"/><circle cx="1845.95" cy="1175.4" r="3.7"/><circle cx="1847.03" cy="1223.98" r="3.7"/><circle cx="1848.11" cy="1103.92" r="3.7"/><circle cx="1849.19" cy="1068.53" r="3.7"/><circle cx="1850.28" cy="1142.09" r="3.7"/><circle cx="1851.36" cy="1181.65" r="3.7"/><circle cx="1852.44" cy="1188.59" r="3.7"/><circle cx="1853.53" cy="1243.42" r="3.7"/><circle cx="1854.61" cy="1238.56" r="3.7"/><circle cx="1855.69" cy="1233.01" r="3.7"/><circle cx="1856.77" cy="1237.17" r="3.7"/><circle cx="1857.86" cy="1237.17" r="3.7"/><circle cx="1858.94" cy="1230.92" r="3.7"/><circle cx="1860.02" cy="1235.09" r="3.7"/><circle cx="1861.1" cy="1237.86" r="3.7"/><circle cx="1862.19" cy="1221.9" r="3.7"/><circle cx="1863.27" cy="1214.27" r="3.7"/><circle cx="1864.35" cy="1242.03" r="3.7"/><circle cx="1865.43" cy="1242.72" r="3.7"/><circle cx="1866.52" cy="1244.11" r="3.7"/><circle cx="1867.6" cy="1245.5" r="3.7"/><circle cx="1868.68" cy="1225.37" r="3.7"/><circle cx="1869.76" cy="1239.25" r="3.7"/><circle cx="1870.85" cy="1230.92" r="3.7"/><circle cx="1871.93" cy="1238.56" r="3.7"/><circle cx="1873.01" cy="1219.82" r="3.7"/><circle cx="1874.09" cy="1231.62" r="3.7"/><circle cx="1875.18" cy="1230.23" r="3.7"/><circle cx="1876.26" cy="1252.44" r="3.7"/><circle cx="1877.34" cy="1242.03" r="3.7"/><circle cx="1878.42" cy="1223.98" r="3.7"/><circle cx="1879.51" cy="1263.54" r="3.7"/><circle cx="1880.59" cy="1260.07" r="3.7"/><circle cx="1881.67" cy="1247.58" r="3.7"/><circle cx="1882.76" cy="1273.26" r="3.7"/><circle cx="1883.84" cy="1239.25" r="3.7"/><circle cx="1884.92" cy="1236.48" r="3.7"/><circle cx="1886" cy="1212.88" r="3.7"/><circle cx="1887.09" cy="1244.8" r="3.7"/><circle cx="1888.17" cy="1264.24" r="3.7"/><circle cx="1889.25" cy="1246.89" r="3.7"/><circle cx="1890.33" cy="1251.74" r="3.7"/><circle cx="1891.42" cy="1253.83" r="3.7"/><circle cx="1892.5" cy="1280.2" r="3.7"/><circle cx="1893.58" cy="1248.97" r="3.7"/><circle cx="1894.66" cy="1275.34" r="3.7"/><circle cx="1895.75" cy="1272.56" r="3.7"/><circle cx="1896.83" cy="1279.5" r="3.7"/><circle cx="1897.91" cy="1264.24" r="3.7"/><circle cx="1898.99" cy="1290.61" r="3.7"/><circle cx="1900.08" cy="1276.73" r="3.7"/><circle cx="1901.16" cy="1264.24" r="3.7"/><circle cx="1902.24" cy="1271.18" r="3.7"/><circle cx="1903.32" cy="1248.97" r="3.7"/><circle cx="1904.41" cy="1265.62" r="3.7"/><circle cx="1905.49" cy="1223.29" r="3.7"/><circle cx="1906.57" cy="1236.48" r="3.7"/><circle cx="1907.66" cy="1266.32" r="3.7"/><circle cx="1908.74" cy="1237.86" r="3.7"/><circle cx="1909.82" cy="1254.52" r="3.7"/><circle cx="1910.9" cy="1264.24" r="3.7"/><circle cx="1911.99" cy="1281.59" r="3.7"/><circle cx="1913.07" cy="1085.88" r="3.7"/><circle cx="1914.15" cy="1203.86" r="3.7"/><circle cx="1915.23" cy="1210.8" r="3.7"/><circle cx="1916.32" cy="1185.12" r="3.7"/><circle cx="1917.4" cy="1025.5" r="3.7"/><circle cx="1918.48" cy="1025.5" r="3.7"/><circle cx="1919.56" cy="1025.5" r="3.7"/><circle cx="1920.65" cy="1214.96" r="3.7"/><circle cx="1921.73" cy="1199" r="3.7"/><circle cx="1922.81" cy="1025.5" r="3.7"/><circle cx="1923.89" cy="1207.33" r="3.7"/><circle cx="1924.98" cy="1207.33" r="3.7"/><circle cx="1926.06" cy="1217.74" r="3.7"/><circle cx="1927.14" cy="1251.74" r="3.7"/><circle cx="1928.22" cy="1239.95" r="3.7"/><circle cx="1929.31" cy="1212.19" r="3.7"/><circle cx="1930.39" cy="1208.72" r="3.7"/><circle cx="1931.47" cy="1215.66" r="3.7"/><circle cx="1932.55" cy="1168.46" r="3.7"/><circle cx="1933.64" cy="1211.49" r="3.7"/><circle cx="1934.72" cy="1201.78" r="3.7"/><circle cx="1935.8" cy="1164.99" r="3.7"/><circle cx="1936.89" cy="1114.33" r="3.7"/><circle cx="1937.97" cy="1096.29" r="3.7"/><circle cx="1939.05" cy="1121.27" r="3.7"/><circle cx="1940.13" cy="1109.47" r="3.7"/><circle cx="1941.22" cy="1146.95" r="3.7"/><circle cx="1942.3" cy="1189.28" r="3.7"/><circle cx="1943.38" cy="1167.08" r="3.7"/><circle cx="1944.46" cy="1025.5" r="3.7"/><circle cx="1945.55" cy="1150.42" r="3.7"/><circle cx="1946.63" cy="1165.69" r="3.7"/><circle cx="1947.71" cy="1130.29" r="3.7"/><circle cx="1948.79" cy="1115.72" r="3.7"/><circle cx="1949.88" cy="1160.83" r="3.7"/><circle cx="1950.96" cy="1119.88" r="3.7"/><circle cx="1952.04" cy="1156.67" r="3.7"/><circle cx="1953.12" cy="1170.55" r="3.7"/><circle cx="1954.21" cy="1025.5" r="3.7"/><circle cx="1955.29" cy="1141.4" r="3.7"/><circle cx="1956.37" cy="1162.22" r="3.7"/><circle cx="1957.45" cy="1132.38" r="3.7"/><circle cx="1958.54" cy="1130.29" r="3.7"/></g>
<g fill="#ed0400"><circle cx="1959.62" cy="1144.17" r="3.7"/><circle cx="1960.7" cy="1205.25" r="3.7"/><circle cx="1961.79" cy="1078.94" r="3.7"/><circle cx="1962.87" cy="1035.91" r="3.7"/><circle cx="1963.95" cy="1025.5" r="3.7"/><circle cx="1965.03" cy="1215.66" r="3.7"/><circle cx="1966.12" cy="1203.16" r="3.7"/><circle cx="1967.2" cy="1216.35" r="3.7"/><circle cx="1968.28" cy="1203.16" r="3.7"/><circle cx="1969.36" cy="1233.7" r="3.7"/><circle cx="1970.45" cy="1221.9" r="3.7"/><circle cx="1971.53" cy="1238.56" r="3.7"/><circle cx="1972.61" cy="1217.04" r="3.7"/><circle cx="1973.69" cy="1177.49" r="3.7"/><circle cx="1974.78" cy="1208.02" r="3.7"/><circle cx="1975.86" cy="1199" r="3.7"/><circle cx="1976.94" cy="1210.8" r="3.7"/><circle cx="1978.02" cy="1173.32" r="3.7"/><circle cx="1979.11" cy="1223.29" r="3.7"/><circle cx="1980.19" cy="1212.88" r="3.7"/><circle cx="1981.27" cy="1187.2" r="3.7"/><circle cx="1982.35" cy="1221.9" r="3.7"/><circle cx="1983.44" cy="1181.65" r="3.7"/><circle cx="1984.52" cy="1163.61" r="3.7"/><circle cx="1985.6" cy="1061.59" r="3.7"/><circle cx="1986.68" cy="1025.5" r="3.7"/><circle cx="1987.77" cy="1111.56" r="3.7"/><circle cx="1988.85" cy="1153.2" r="3.7"/><circle cx="1989.93" cy="1048.4" r="3.7"/><circle cx="1991.02" cy="1153.89" r="3.7"/><circle cx="1992.1" cy="1203.86" r="3.7"/><circle cx="1993.18" cy="1152.5" r="3.7"/><circle cx="1994.26" cy="1083.1" r="3.7"/><circle cx="1995.35" cy="1037.3" r="3.7"/><circle cx="1996.43" cy="1171.24" r="3.7"/><circle cx="1997.51" cy="1205.94" r="3.7"/><circle cx="1998.59" cy="1198.31" r="3.7"/><circle cx="1999.68" cy="1153.89" r="3.7"/><circle cx="2000.76" cy="1208.02" r="3.7"/><circle cx="2001.84" cy="1210.8" r="3.7"/><circle cx="2002.92" cy="1219.82" r="3.7"/><circle cx="2004.01" cy="1233.01" r="3.7"/><circle cx="2005.09" cy="1218.43" r="3.7"/><circle cx="2006.17" cy="1208.02" r="3.7"/><circle cx="2007.25" cy="1250.36" r="3.7"/><circle cx="2008.34" cy="1244.11" r="3.7"/><circle cx="2009.42" cy="1203.86" r="3.7"/><circle cx="2010.5" cy="1230.23" r="3.7"/><circle cx="2011.58" cy="1202.47" r="3.7"/><circle cx="2012.67" cy="1190.67" r="3.7"/><circle cx="2013.75" cy="1203.16" r="3.7"/><circle cx="2014.83" cy="1200.39" r="3.7"/><circle cx="2015.92" cy="1167.08" r="3.7"/><circle cx="2017" cy="1075.47" r="3.7"/><circle cx="2018.08" cy="1220.51" r="3.7"/><circle cx="2019.16" cy="1227.45" r="3.7"/><circle cx="2020.25" cy="1067.14" r="3.7"/><circle cx="2021.33" cy="1025.5" r="3.7"/><circle cx="2022.41" cy="1122.66" r="3.7"/><circle cx="2023.49" cy="1163.61" r="3.7"/><circle cx="2024.58" cy="1137.93" r="3.7"/><circle cx="2025.66" cy="1073.39" r="3.7"/><circle cx="2026.74" cy="1033.83" r="3.7"/><circle cx="2027.82" cy="1157.36" r="3.7"/><circle cx="2028.91" cy="1119.19" r="3.7"/><circle cx="2029.99" cy="1214.27" r="3.7"/><circle cx="2031.07" cy="1159.44" r="3.7"/><circle cx="2032.15" cy="1025.5" r="3.7"/><circle cx="2033.24" cy="1070.61" r="3.7"/><circle cx="2034.32" cy="1228.84" r="3.7"/><circle cx="2035.4" cy="1226.07" r="3.7"/><circle cx="2036.48" cy="1197.61" r="3.7"/><circle cx="2037.57" cy="1203.16" r="3.7"/><circle cx="2038.65" cy="1128.21" r="3.7"/><circle cx="2039.73" cy="1147.64" r="3.7"/><circle cx="2040.81" cy="1150.42" r="3.7"/><circle cx="2041.9" cy="1142.09" r="3.7"/><circle cx="2042.98" cy="1142.79" r="3.7"/><circle cx="2044.06" cy="1170.55" r="3.7"/><circle cx="2045.15" cy="1128.91" r="3.7"/><circle cx="2046.23" cy="1057.42" r="3.7"/><circle cx="2047.31" cy="1126.82" r="3.7"/><circle cx="2048.39" cy="1053.26" r="3.7"/><circle cx="2049.48" cy="1025.5" r="3.7"/><circle cx="2050.56" cy="1149.03" r="3.7"/><circle cx="2051.64" cy="1219.82" r="3.7"/><circle cx="2052.72" cy="1233.01" r="3.7"/><circle cx="2053.81" cy="1211.49" r="3.7"/><circle cx="2054.89" cy="1217.74" r="3.7"/><circle cx="2055.97" cy="1200.39" r="3.7"/><circle cx="2057.05" cy="1174.71" r="3.7"/><circle cx="2058.14" cy="1113.64" r="3.7"/><circle cx="2059.22" cy="1178.87" r="3.7"/><circle cx="2060.3" cy="1206.63" r="3.7"/><circle cx="2061.38" cy="1221.9" r="3.7"/><circle cx="2062.47" cy="1174.02" r="3.7"/><circle cx="2063.55" cy="1184.43" r="3.7"/><circle cx="2064.63" cy="1231.62" r="3.7"/><circle cx="2065.71" cy="1216.35" r="3.7"/><circle cx="2066.8" cy="1171.24" r="3.7"/><circle cx="2067.88" cy="1200.39" r="3.7"/><circle cx="2068.96" cy="1219.82" r="3.7"/><circle cx="2070.05" cy="1189.28" r="3.7"/><circle cx="2071.13" cy="1142.79" r="3.7"/><circle cx="2072.21" cy="1121.97" r="3.7"/><circle cx="2073.29" cy="1175.4" r="3.7"/><circle cx="2074.38" cy="1140.7" r="3.7"/><circle cx="2075.46" cy="1176.79" r="3.7"/><circle cx="2076.54" cy="1214.27" r="3.7"/><circle cx="2077.62" cy="1231.62" r="3.7"/><circle cx="2078.71" cy="1260.77" r="3.7"/><circle cx="2079.79" cy="1219.13" r="3.7"/><circle cx="2080.87" cy="1237.86" r="3.7"/><circle cx="2081.95" cy="1222.6" r="3.7"/><circle cx="2083.04" cy="1207.33" r="3.7"/><circle cx="2084.12" cy="1260.07" r="3.7"/><circle cx="2085.2" cy="1248.97" r="3.7"/><circle cx="2086.28" cy="1235.09" r="3.7"/><circle cx="2087.37" cy="1212.19" r="3.7"/><circle cx="2088.45" cy="1226.76" r="3.7"/><circle cx="2089.53" cy="1207.33" r="3.7"/><circle cx="2090.61" cy="1212.19" r="3.7"/><circle cx="2091.7" cy="1230.92" r="3.7"/><circle cx="2092.78" cy="1244.11" r="3.7"/><circle cx="2093.86" cy="1199" r="3.7"/><circle cx="2094.94" cy="1201.78" r="3.7"/><circle cx="2096.03" cy="1212.88" r="3.7"/><circle cx="2097.11" cy="1218.43" r="3.7"/><circle cx="2098.19" cy="1238.56" r="3.7"/><circle cx="2099.28" cy="1215.66" r="3.7"/><circle cx="2100.36" cy="1235.09" r="3.7"/><circle cx="2101.44" cy="1253.83" r="3.7"/><circle cx="2102.52" cy="1237.86" r="3.7"/><circle cx="2103.61" cy="1218.43" r="3.7"/><circle cx="2104.69" cy="1228.84" r="3.7"/><circle cx="2105.77" cy="1226.07" r="3.7"/><circle cx="2106.85" cy="1237.17" r="3.7"/><circle cx="2107.94" cy="1244.11" r="3.7"/><circle cx="2109.02" cy="1229.54" r="3.7"/><circle cx="2110.1" cy="1240.64" r="3.7"/><circle cx="2111.18" cy="1242.72" r="3.7"/><circle cx="2112.27" cy="1145.56" r="3.7"/><circle cx="2113.35" cy="1257.99" r="3.7"/><circle cx="2114.43" cy="1206.63" r="3.7"/><circle cx="2115.51" cy="1155.97" r="3.7"/><circle cx="2116.6" cy="1251.05" r="3.7"/><circle cx="2117.68" cy="1253.13" r="3.7"/><circle cx="2118.76" cy="1212.19" r="3.7"/><circle cx="2119.84" cy="1202.47" r="3.7"/><circle cx="2120.93" cy="1187.9" r="3.7"/><circle cx="2122.01" cy="1213.57" r="3.7"/><circle cx="2123.09" cy="1205.25" r="3.7"/><circle cx="2124.18" cy="1243.42" r="3.7"/><circle cx="2125.26" cy="1163.61" r="3.7"/><circle cx="2126.34" cy="1246.19" r="3.7"/><circle cx="2127.42" cy="1229.54" r="3.7"/><circle cx="2128.51" cy="1248.97" r="3.7"/><circle cx="2129.59" cy="1221.9" r="3.7"/><circle cx="2130.67" cy="1214.96" r="3.7"/><circle cx="2131.75" cy="1215.66" r="3.7"/><circle cx="2132.84" cy="1199" r="3.7"/><circle cx="2133.92" cy="1234.39" r="3.7"/><circle cx="2135" cy="1228.15" r="3.7"/><circle cx="2136.08" cy="1255.91" r="3.7"/><circle cx="2137.17" cy="1220.51" r="3.7"/><circle cx="2138.25" cy="1181.65" r="3.7"/><circle cx="2139.33" cy="1220.51" r="3.7"/><circle cx="2140.41" cy="1212.19" r="3.7"/><circle cx="2141.5" cy="1025.5" r="3.7"/><circle cx="2142.58" cy="1025.5" r="3.7"/><circle cx="2143.66" cy="1025.5" r="3.7"/><circle cx="2144.74" cy="1025.5" r="3.7"/><circle cx="2145.83" cy="1025.5" r="3.7"/><circle cx="2146.91" cy="1276.73" r="3.7"/><circle cx="2147.99" cy="1276.73" r="3.7"/><circle cx="2149.07" cy="1268.4" r="3.7"/><circle cx="2150.16" cy="1276.03" r="3.7"/><circle cx="2151.24" cy="1280.2" r="3.7"/><circle cx="2152.32" cy="1281.59" r="3.7"/><circle cx="2153.41" cy="1301.71" r="3.7"/><circle cx="2154.49" cy="1300.32" r="3.7"/><circle cx="2155.57" cy="1296.85" r="3.7"/><circle cx="2156.65" cy="1294.08" r="3.7"/><circle cx="2157.74" cy="1287.14" r="3.7"/><circle cx="2158.82" cy="1311.43" r="3.7"/><circle cx="2159.9" cy="1322.53" r="3.7"/><circle cx="2160.98" cy="1299.63" r="3.7"/><circle cx="2162.07" cy="1321.14" r="3.7"/><circle cx="2163.15" cy="1301.71" r="3.7"/><circle cx="2164.23" cy="1292.69" r="3.7"/><circle cx="2165.31" cy="1267.71" r="3.7"/><circle cx="2166.4" cy="1211.49" r="3.7"/><circle cx="2167.48" cy="1305.18" r="3.7"/><circle cx="2168.56" cy="1276.73" r="3.7"/><circle cx="2169.64" cy="1284.36" r="3.7"/><circle cx="2170.73" cy="1281.59" r="3.7"/><circle cx="2171.81" cy="1285.75" r="3.7"/><circle cx="2172.89" cy="1313.51" r="3.7"/><circle cx="2173.97" cy="1337.8" r="3.7"/><circle cx="2175.06" cy="1328.78" r="3.7"/><circle cx="2176.14" cy="1333.64" r="3.7"/><circle cx="2177.22" cy="1322.53" r="3.7"/><circle cx="2178.31" cy="1288.53" r="3.7"/><circle cx="2179.39" cy="1314.9" r="3.7"/><circle cx="2180.47" cy="1313.51" r="3.7"/><circle cx="2181.55" cy="1337.8" r="3.7"/><circle cx="2182.64" cy="1289.91" r="3.7"/><circle cx="2183.72" cy="1178.87" r="3.7"/><circle cx="2184.8" cy="1253.13" r="3.7"/><circle cx="2185.88" cy="1181.65" r="3.7"/><circle cx="2186.97" cy="1268.4" r="3.7"/><circle cx="2188.05" cy="1253.13" r="3.7"/><circle cx="2189.13" cy="1248.27" r="3.7"/><circle cx="2190.21" cy="1259.38" r="3.7"/><circle cx="2191.3" cy="1323.92" r="3.7"/><circle cx="2192.38" cy="1322.53" r="3.7"/><circle cx="2193.46" cy="1320.45" r="3.7"/><circle cx="2194.54" cy="1300.32" r="3.7"/><circle cx="2195.63" cy="1311.43" r="3.7"/><circle cx="2196.71" cy="1314.2" r="3.7"/><circle cx="2197.79" cy="1256.6" r="3.7"/><circle cx="2198.87" cy="1273.95" r="3.7"/><circle cx="2199.96" cy="1228.15" r="3.7"/><circle cx="2201.04" cy="1279.5" r="3.7"/><circle cx="2202.12" cy="1291.3" r="3.7"/><circle cx="2203.2" cy="1314.9" r="3.7"/><circle cx="2204.29" cy="1301.71" r="3.7"/><circle cx="2205.37" cy="1296.85" r="3.7"/><circle cx="2206.45" cy="1296.16" r="3.7"/><circle cx="2207.54" cy="1306.57" r="3.7"/><circle cx="2208.62" cy="1271.87" r="3.7"/><circle cx="2209.7" cy="1274.65" r="3.7"/><circle cx="2210.78" cy="1260.77" r="3.7"/><circle cx="2211.87" cy="1273.26" r="3.7"/><circle cx="2212.95" cy="1291.3" r="3.7"/><circle cx="2214.03" cy="1279.5" r="3.7"/><circle cx="2215.11" cy="1305.88" r="3.7"/><circle cx="2216.2" cy="1312.12" r="3.7"/><circle cx="2217.28" cy="1314.2" r="3.7"/><circle cx="2218.36" cy="1283.67" r="3.7"/><circle cx="2219.44" cy="1299.63" r="3.7"/><circle cx="2220.53" cy="1253.83" r="3.7"/><circle cx="2221.61" cy="1244.8" r="3.7"/><circle cx="2222.69" cy="1265.62" r="3.7"/><circle cx="2223.77" cy="1297.55" r="3.7"/><circle cx="2224.86" cy="1290.61" r="3.7"/><circle cx="2225.94" cy="1269.09" r="3.7"/><circle cx="2227.02" cy="1285.06" r="3.7"/><circle cx="2228.1" cy="1274.65" r="3.7"/><circle cx="2229.19" cy="1282.28" r="3.7"/><circle cx="2230.27" cy="1279.5" r="3.7"/><circle cx="2231.35" cy="1267.01" r="3.7"/><circle cx="2232.44" cy="1260.77" r="3.7"/><circle cx="2233.52" cy="1248.97" r="3.7"/><circle cx="2234.6" cy="1269.09" r="3.7"/><circle cx="2235.68" cy="1274.65" r="3.7"/><circle cx="2236.77" cy="1284.36" r="3.7"/><circle cx="2237.85" cy="1278.81" r="3.7"/><circle cx="2238.93" cy="1269.09" r="3.7"/><circle cx="2240.01" cy="1233.7" r="3.7"/><circle cx="2241.1" cy="1258.68" r="3.7"/><circle cx="2242.18" cy="1249.66" r="3.7"/><circle cx="2243.26" cy="1237.17" r="3.7"/><circle cx="2244.34" cy="1232.31" r="3.7"/><circle cx="2245.43" cy="1223.98" r="3.7"/><circle cx="2246.51" cy="1234.39" r="3.7"/><circle cx="2247.59" cy="1240.64" r="3.7"/><circle cx="2248.67" cy="1239.95" r="3.7"/><circle cx="2249.76" cy="1239.95" r="3.7"/><circle cx="2250.84" cy="1233.01" r="3.7"/><circle cx="2251.92" cy="1234.39" r="3.7"/><circle cx="2253" cy="1236.48" r="3.7"/><circle cx="2254.09" cy="1211.49" r="3.7"/><circle cx="2255.17" cy="1165.69" r="3.7"/><circle cx="2256.25" cy="1276.73" r="3.7"/><circle cx="2257.34" cy="1280.2" r="3.7"/><circle cx="2258.42" cy="1256.6" r="3.7"/><circle cx="2259.5" cy="1289.22" r="3.7"/><circle cx="2260.58" cy="1271.18" r="3.7"/><circle cx="2261.67" cy="1223.98" r="3.7"/><circle cx="2262.75" cy="1212.88" r="3.7"/><circle cx="2263.83" cy="1208.02" r="3.7"/><circle cx="2264.91" cy="1199" r="3.7"/><circle cx="2266" cy="1221.21" r="3.7"/><circle cx="2267.08" cy="1229.54" r="3.7"/><circle cx="2268.16" cy="1225.37" r="3.7"/><circle cx="2269.24" cy="1239.95" r="3.7"/><circle cx="2270.33" cy="1229.54" r="3.7"/><circle cx="2271.41" cy="1267.01" r="3.7"/><circle cx="2272.49" cy="1323.92" r="3.7"/><circle cx="2273.57" cy="1316.29" r="3.7"/><circle cx="2274.66" cy="1278.12" r="3.7"/><circle cx="2275.74" cy="1233.01" r="3.7"/><circle cx="2276.82" cy="1221.21" r="3.7"/><circle cx="2277.9" cy="1202.47" r="3.7"/><circle cx="2278.99" cy="1212.19" r="3.7"/><circle cx="2280.07" cy="1235.78" r="3.7"/><circle cx="2281.15" cy="1245.5" r="3.7"/><circle cx="2282.23" cy="1225.37" r="3.7"/><circle cx="2283.32" cy="1251.05" r="3.7"/><circle cx="2284.4" cy="1255.91" r="3.7"/><circle cx="2285.48" cy="1217.04" r="3.7"/><circle cx="2286.57" cy="1229.54" r="3.7"/><circle cx="2287.65" cy="1206.63" r="3.7"/><circle cx="2288.73" cy="1219.82" r="3.7"/><circle cx="2289.81" cy="1289.91" r="3.7"/></g>
<line x1="1708" x2="2325.1" y1="1211.07" y2="1211.07" stroke="#058205" stroke-width="3.6"/>
<text x="1743.1" y="1377.2" font-size="15.8" text-anchor="middle" >0</text>
<text x="1851.36" y="1377.2" font-size="15.8" text-anchor="middle" >100</text>
<text x="1959.62" y="1377.2" font-size="15.8" text-anchor="middle" >200</text>
<text x="2067.88" y="1377.2" font-size="15.8" text-anchor="middle" >300</text>
<text x="2176.14" y="1377.2" font-size="15.8" text-anchor="middle" >400</text>
<text x="2284.4" y="1377.2" font-size="15.8" text-anchor="middle" >500</text>
<text x="1707" y="1308.8" font-size="15.8" text-anchor="end" >10</text>
<text x="1707" y="1239.4" font-size="15.8" text-anchor="end" >20</text>
<text x="1707" y="1170" font-size="15.8" text-anchor="end" >30</text>
<text x="1707" y="1100.6" font-size="15.8" text-anchor="end" >40</text>
<text x="1707" y="1031.2" font-size="15.8" text-anchor="end" >50</text>
<text x="2016.8" y="1413.1" font-size="18.5" text-anchor="middle" >Index</text>
<text transform="translate(1652.4,1181.3) rotate(-90)" font-size="18.5" text-anchor="middle" letter-spacing="0.38">Target Value</text>
<circle cx="2092.7" cy="976.9" r="3.7" fill="#4d4d4d"/>
<text x="2119.5" y="982.6" font-size="15.8" text-anchor="start" >Reference</text>
<circle cx="2232.5" cy="976.9" r="3.7" fill="#ed0400"/>
<text x="2258.4" y="982.6" font-size="15.8" text-anchor="start" >Current</text>
</svg>
<div class="logo" style="left:2478px;top:1476.5px;width:12.2px;height:28.5px"></div>
<div class="logo" style="left:2500.3px;top:1462px;width:12.2px;height:43px"></div>
<div class="logo" style="left:2522px;top:1448px;width:12.2px;height:57px"></div>
</body></html>
